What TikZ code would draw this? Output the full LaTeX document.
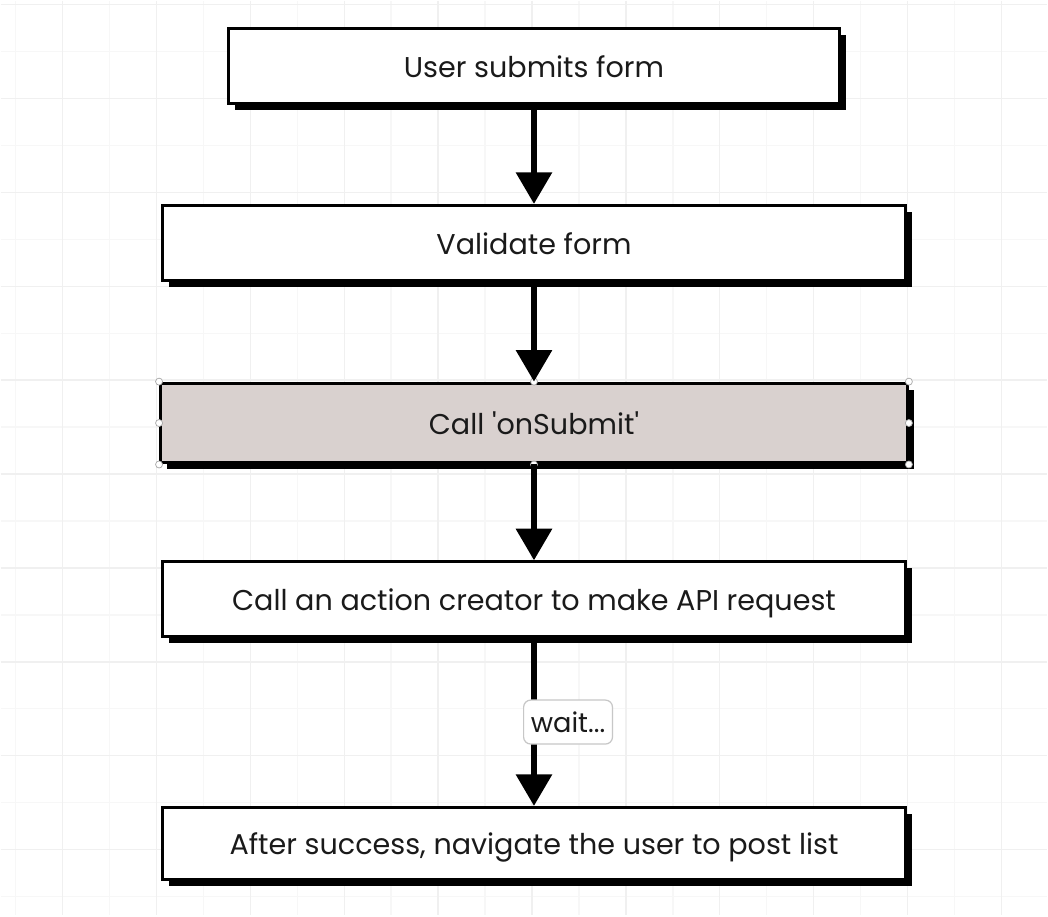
\documentclass[tikz,border=0pt]{standalone}
\usepackage{fontspec}
\setmainfont{Poppins}
\usetikzlibrary{arrows.meta,positioning,shadows}

\definecolor{gridmajor}{HTML}{F0F0F0}
\definecolor{gridminor}{HTML}{F7F7F7}
\definecolor{selected}{HTML}{D9D1CF}
\definecolor{ink}{HTML}{1A1A1A}

\begin{document}
\begin{tikzpicture}[x=0.02cm,y=-0.02cm,>={Triangle[width=20pt,length=18pt]},node distance=1.98cm,
    box/.style={draw=black,line width=1.7pt,fill=white,text=ink,minimum width=14.9cm,minimum height=1.5cm,
        font=\fontsize{16.3}{18}\selectfont,text height=13pt,text depth=0pt,
        drop shadow={shadow xshift=0.13cm,shadow yshift=-0.13cm,fill=black,opacity=1}},
    flow/.style={->,line width=3.4pt},
    waitlabel/.style={draw=black!22,fill=white,text=ink,rounded corners=4pt,line width=0.7pt,
        minimum width=1.78cm,minimum height=0.88cm,inner sep=2pt,font=\fontsize{15.5}{17}\selectfont},
    handle/.style={circle,draw=black!35,fill=white,inner sep=0pt,minimum size=4pt,line width=0.4pt}]

    % background grid
    \fill[white] (0,0) rectangle (1048,916);
    \foreach \gx in {15,109,...,1048} \draw[gridminor,line width=0.8pt] (\gx,0) -- (\gx,916);
    \foreach \gy in {51,145,...,916} \draw[gridminor,line width=0.8pt] (0,\gy) -- (1048,\gy);
    \foreach \gx in {62,156,...,1048} \draw[gridmajor,line width=0.8pt] (\gx,0) -- (\gx,916);
    \foreach \gy in {4,98,...,916} \draw[gridmajor,line width=0.8pt] (0,\gy) -- (1048,\gy);
    \useasboundingbox (0,0) rectangle (1048,916);

    \node[box,minimum width=12.24cm] (submit) at (534,65.5) {User submits form};
    \node[box] (validate) [below=of submit] {Validate form};
    \node[box,fill=selected,minimum width=14.96cm,minimum height=1.6cm] (onsubmit) [below=2cm of validate] {Call \textquotesingle onSubmit\textquotesingle};
    \node[box] (request) [below=1.92cm of onsubmit] {Call an action creator to make API request};
    \node[box,minimum height=1.44cm] (navigate) [below=3.36cm of request] {After success, navigate the user to post list};

    % selection handles
    \foreach \anc in {north west,north,north east,west,east,south west,south,south east}
        \node[handle] at (onsubmit.\anc) {};

    \draw[flow] (submit) -- (validate);
    \draw[flow] (validate) -- (onsubmit);
    \draw[flow] (onsubmit) -- (request);
    \draw[flow] (request) -- node[waitlabel,anchor=west,xshift=-0.22cm] (wait) {wait...} (navigate);

\end{tikzpicture}
\end{document}
